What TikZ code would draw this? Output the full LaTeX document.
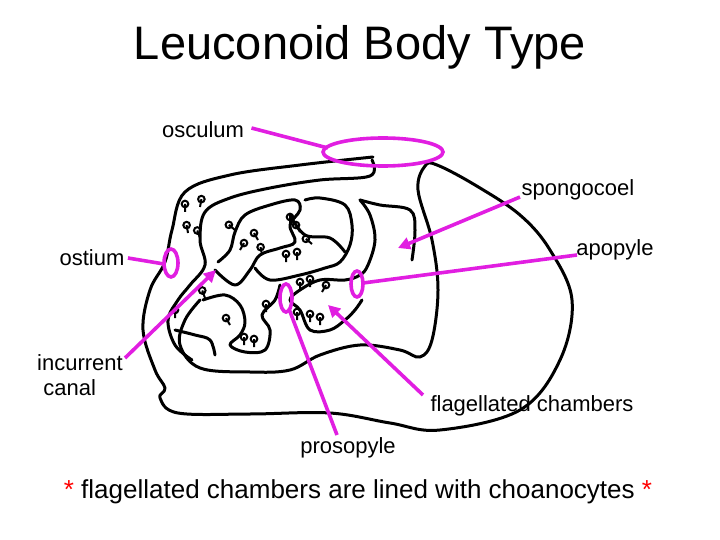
\documentclass[tikz,border=0pt]{standalone}
\usepackage{fontspec}
\setmainfont{Liberation Sans}
\usetikzlibrary{arrows.meta}
\definecolor{pinkmag}{RGB}{225,30,225}
\begin{document}
\begin{tikzpicture}[x=1pt,y=-1pt,
  body/.style={black,line width=3pt,line join=round,line cap=round},
  mag/.style={draw=pinkmag,line width=3.6pt},
  lab/.style={font=\fontsize{22}{25}\selectfont},
  arr/.style={mag,-{Triangle[length=12pt,width=12pt]}}]
\useasboundingbox (0,0) rectangle (720,540);
\node (title) at (360,47) {\fontsize{47}{52}\selectfont Leuconoid Body Type};
% body outline
\draw[body] plot[smooth,tension=0.6] coordinates {(373,157)(300,165)(230,175)(185,192)(172,230)(165,262)(150,290)(143,330)(155,370)(165,388)(160,398)(178,413)(250,414)(330,413)(390,423)(440,430)(520,410)(560,360)(572,300)(550,250)(520,215)(475,185)(437,165)(425,166)(418,190)(432,240)(438,290)(432,340)(420,357)(400,350)(360,345)(320,355)(290,370)(250,372)(200,368)(180,345)(185,320)(200,300)};
\draw[body] plot[smooth,tension=0.6] coordinates {(372,160)(370,176)(320,180)(270,188)(230,198)(205,212)(200,240)(205,265)(190,285)(178,300)(168,320)(175,345)(192,360)};
% canal loops
\draw[body] plot[smooth,tension=0.6] coordinates {(215,270)(235,285)(250,270)(260,255)(280,248)(295,242)(290,225)(300,210)(295,200)(270,205)(245,215)(235,232)(230,250)(218,262)};
\draw[body] plot[smooth,tension=0.6] coordinates {(255,268)(270,280)(300,275)(325,268)(340,262)(350,245)(352,225)(345,205)(320,198)(305,200)};
\draw[body] plot[smooth,tension=0.6] coordinates {(290,215)(305,235)(330,238)(345,252)};
\draw[body] plot[smooth,tension=0.6] coordinates {(360,200)(370,215)(375,240)(368,265)(360,275)(345,280)(320,280)(300,290)(290,300)(300,310)(310,330)(330,330)(345,320)(355,310)(362,300)};
\draw[body] plot[smooth,tension=0.6] coordinates {(203,300)(225,295)(240,305)(245,322)(240,335)(230,345)(245,352)(265,350)(270,330)(262,315)(275,300)(280,285)};
\draw[body] plot[smooth,tension=0.6] coordinates {(175,330)(195,335)(210,340)(215,355)};
\draw[body] plot[smooth,tension=0.6] coordinates {(360,200)(380,205)(410,210)(415,230)(412,260)};
% choanocyte symbols
\foreach \x/\y/\a in {185/212/90,200/207/100,188/233/80,200/238/70,235/230/40,240/250/120,258/240/60,262/255/80,290/225/90,300/232/60,312/244/40,286/262/90,297/260/90,300/290/90,310/287/90,322/292/120,297/320/90,310/322/90,320/325/90,230/325/60,244/345/90,254/347/90,175/318/90,205/298/70,266/312/90}
  \draw[line width=2pt] (\x,\y) -- ++(\a:-8) circle[radius=3.3];
% magenta labels
\node[lab] (osc) at (203,130) {osculum};
\coordinate (osce) at (383,152);
\draw[mag] (osce) ellipse [x radius=60,y radius=14];
\draw[mag] (osc.east) ++(4,-2) -- (328,148);
\node[lab] (spg) at (578,190) {spongocoel};
\coordinate (spgt) at (398,248);
\draw[arr] (520,197) -- (spgt);
\node[lab] (apo) at (615,250) {apopyle};
\coordinate (apoe) at (357,284);
\draw[mag] (apoe) ellipse [x radius=6,y radius=13];
\draw[mag] (577,255) -- (363,283);
\node[lab] (ost) at (92,258) {ostium};
\coordinate (oste) at (171,263);
\draw[mag] (oste) ellipse [x radius=7,y radius=14];
\draw[mag] (ost.east) -- (164,264);
\node[lab,align=left] (inc) at (80,375) {incurrent\\\ canal};
\coordinate (inct) at (216,270);
\draw[arr] (125,358) -- (inct);
\node[lab] (fla) at (532,406) {flagellated chambers};
\coordinate (flat) at (328,305);
\draw[arr] (423,395) -- (flat);
\node[lab] (pro) at (348,448) {prosopyle};
\coordinate (proe) at (286,298);
\draw[mag] (proe) ellipse [x radius=6,y radius=14];
\draw[mag] (337,435) -- (289,309);
\node (foot) at (358,492) {\fontsize{26}{30}\selectfont\textcolor{red}{*} flagellated chambers are lined with choanocytes \textcolor{red}{*}};
\end{tikzpicture}
\end{document}
